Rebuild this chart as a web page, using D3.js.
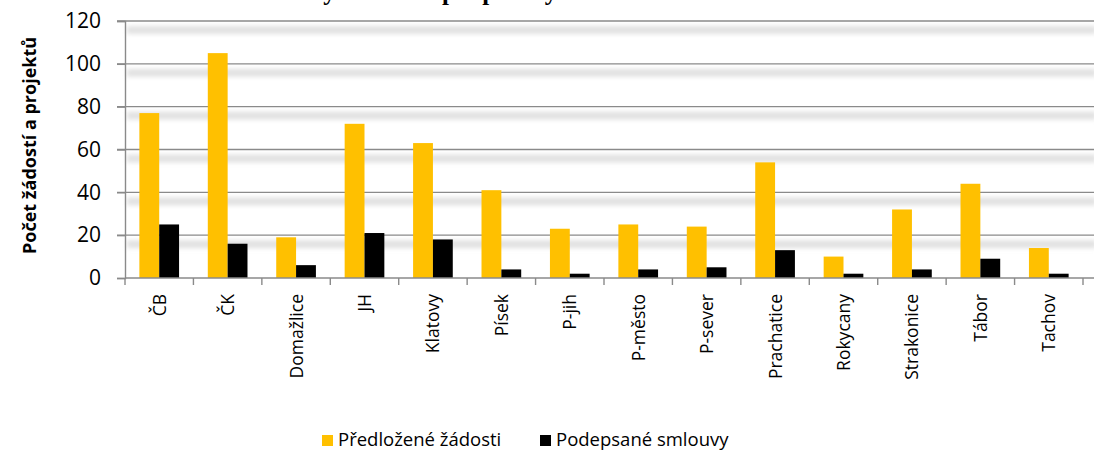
<!DOCTYPE html>
<html>
<head>
<meta charset="utf-8">
<script src="https://cdn.jsdelivr.net/npm/d3@7"></script>
<style>
  body { margin: 0; background: #fff; }
  svg { display: block; }
</style>
</head>
<body>
<svg id="chart"></svg>
<script>
const categories = ["ČB", "ČK", "Domažlice", "JH", "Klatovy", "Písek", "P-jih", "P-město", "P-sever", "Prachatice", "Rokycany", "Strakonice", "Tábor", "Tachov"];
const predlozene = [77, 105, 19, 72, 63, 41, 23, 25, 24, 54, 10, 32, 44, 14];
const podepsane = [25, 16, 6, 21, 18, 4, 2, 4, 5, 13, 2, 4, 9, 2];
const seriesNames = ["Předložené žádosti", "Podepsané smlouvy"];
const seriesColors = ["#ffc000", "#000000"];
const yTicks = [0, 20, 40, 60, 80, 100, 120];

const width = 1094, height = 450;
const margin = { top: 21, right: 11, bottom: 172, left: 125 };
const innerW = width - margin.left - margin.right;
const innerH = height - margin.top - margin.bottom;

const svg = d3.select("#chart").attr("width", width).attr("height", height);

const defs = svg.append("defs");
defs.append("filter").attr("id", "soft")
  .attr("x", "-5%").attr("y", "-100%").attr("width", "110%").attr("height", "300%")
  .append("feGaussianBlur").attr("stdDeviation", 2.2);

// title sits mostly above the picture, only its descenders show
svg.append("text")
  .attr("x", 276)
  .attr("y", 0)
  .style("font-family", "'Liberation Serif', 'Times New Roman', serif")
  .style("font-weight", "bold")
  .style("font-size", "25px")
  .attr("fill", "#000")
  .text("Počty žádostí a podpořených akcí");

const g = svg.append("g").attr("transform", `translate(${margin.left},${margin.top})`);

const x0 = d3.scaleBand().domain(categories).range([0, innerW]).paddingInner(0.42).paddingOuter(0.21);
const x1 = d3.scaleBand().domain(seriesNames).range([0, x0.bandwidth()]);
const y = d3.scaleLinear().domain([0, 120]).range([innerH, 0]);

// soft shadow under each gridline
g.append("g").selectAll("rect")
  .data(yTicks.filter(d => d > 0))
  .join("rect")
  .attr("x", 2)
  .attr("y", d => y(d) + 5)
  .attr("width", width - margin.left)
  .attr("height", 8)
  .attr("fill", "#e2e2e2")
  .attr("filter", "url(#soft)");

g.append("g").selectAll("line")
  .data(yTicks.filter(d => d > 0))
  .join("line")
  .attr("x1", -8)
  .attr("x2", width - margin.left)
  .attr("y1", d => y(d))
  .attr("y2", d => y(d))
  .attr("stroke", "#8a8a8a")
  .attr("stroke-width", 1.4);

// bars
const rows = categories.map((c, i) => ({ cat: c, vals: [predlozene[i], podepsane[i]] }));
g.append("g").selectAll("g")
  .data(rows)
  .join("g")
  .attr("transform", d => `translate(${x0(d.cat)},0)`)
  .selectAll("rect")
  .data(d => d.vals.map((v, k) => ({ key: seriesNames[k], v, k })))
  .join("rect")
  .attr("x", d => x1(d.key))
  .attr("y", d => y(d.v))
  .attr("width", x1.bandwidth())
  .attr("height", d => innerH - y(d.v))
  .attr("fill", d => seriesColors[d.k]);

// y axis
const yAxis = g.append("g")
  .call(d3.axisLeft(y).tickValues(yTicks).tickSize(8).tickPadding(16));
yAxis.select(".domain").attr("stroke", "#8a8a8a").attr("stroke-width", 1.4);
yAxis.selectAll(".tick line").attr("stroke", "#8a8a8a").attr("stroke-width", 1.4);
yAxis.selectAll("text")
  .style("font-family", "'Open Sans', sans-serif")
  .style("font-size", "21px")
  .attr("fill", "#000");

// x axis: line, boundary ticks, rotated labels
const xStep = d3.scaleBand().domain(categories).range([0, innerW]);
const xAxis = g.append("g").attr("transform", `translate(0,${innerH})`);
xAxis.append("line")
  .attr("x1", 0).attr("x2", width - margin.left)
  .attr("stroke", "#8a8a8a").attr("stroke-width", 1.4);
xAxis.selectAll(".xt")
  .data(d3.range(categories.length + 1))
  .join("line")
  .attr("class", "xt")
  .attr("x1", i => i * xStep.step())
  .attr("x2", i => i * xStep.step())
  .attr("y1", 0).attr("y2", 7)
  .attr("stroke", "#8a8a8a").attr("stroke-width", 1.4);
xAxis.selectAll(".xl")
  .data(categories)
  .join("text")
  .attr("class", "xl")
  .attr("transform", d => `translate(${x0(d) + x0.bandwidth() / 2},16) rotate(-90)`)
  .attr("dy", "0.37em")
  .attr("text-anchor", "end")
  .style("font-family", "'Open Sans', sans-serif")
  .style("font-size", "17.5px")
  .attr("fill", "#000")
  .text(d => d);

// y axis title
svg.append("text")
  .attr("transform", `translate(36,${margin.top + innerH / 2 - 4}) rotate(-90)`)
  .attr("text-anchor", "middle")
  .style("font-family", "'Open Sans', sans-serif")
  .style("font-weight", "bold")
  .style("font-size", "18px")
  .attr("fill", "#000")
  .text("Počet žádostí a projektů");

// legend
const legend = svg.append("g").attr("transform", "translate(322,434)");
const legX = [0, 218];
const items = legend.selectAll("g")
  .data(seriesNames)
  .join("g")
  .attr("transform", (d, i) => `translate(${legX[i]},0)`);
items.append("rect")
  .attr("width", 11).attr("height", 11).attr("y", 1)
  .attr("fill", (d, i) => seriesColors[i]);
items.append("text")
  .attr("x", 16).attr("y", 12)
  .style("font-family", "'Open Sans', sans-serif")
  .style("font-size", "18.5px")
  .attr("fill", "#000")
  .text(d => d);
</script>
</body>
</html>
